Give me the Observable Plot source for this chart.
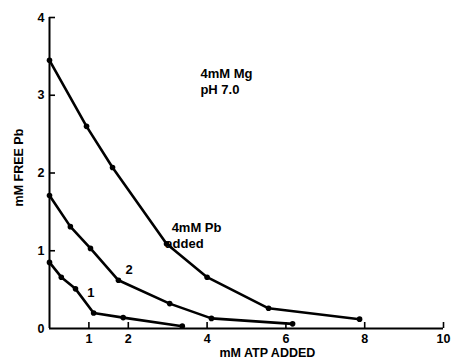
<!DOCTYPE html>
<html><head><meta charset="utf-8">
<script src="https://cdn.jsdelivr.net/npm/d3@7"></script>
<script src="https://cdn.jsdelivr.net/npm/@observablehq/plot@0.6"></script>
<style>
body{margin:0;background:#fff;}
svg{font-family:"Liberation Sans",Arial,sans-serif;}
</style>
</head><body>
<div id="chart"></div>
<script>
const curveNames = ["4mM Pb", "2", "1"];
const atp3 = [0, 0.94, 1.6, 2.97, 4.0, 5.56, 7.87];
const pb3  = [3.45, 2.60, 2.07, 1.09, 0.66, 0.26, 0.12];
const atp2 = [0, 0.53, 1.04, 1.75, 3.05, 4.11, 6.17];
const pb2  = [1.71, 1.31, 1.03, 0.62, 0.32, 0.13, 0.06];
const atp1 = [0, 0.3, 0.66, 1.12, 1.87, 3.37];
const pb1  = [0.85, 0.66, 0.51, 0.20, 0.14, 0.03];
const xTicks = [1, 2, 4, 6, 8, 10];
const yTicks = [0, 1, 2, 3, 4];
const xTitle = "mM ATP ADDED";
const yTitle = "mM FREE Pb";
const notes = [
  {x: 3.83, y: 3.28, t: "4mM Mg"},
  {x: 3.83, y: 3.07, t: "pH 7.0"},
  {x: 3.1, y: 1.30, t: "4mM Pb"},
  {x: 2.94, y: 1.09, t: "added"},
  {x: 1.93, y: 0.76, t: "2"},
  {x: 0.96, y: 0.46, t: "1"}
];

const data = [];
[[atp3, pb3], [atp2, pb2], [atp1, pb1]].forEach(([xs, ys], i) =>
  xs.forEach((x, j) => data.push({curve: curveNames[i], atp: x, pb: ys[j]})));

const W = 451, H = 362, mL = 49, mR = 8, mT = 17, mB = 34, tickLen = 6;

const chart = Plot.plot({
  width: W,
  height: H,
  marginLeft: mL,
  marginRight: mR,
  marginTop: mT,
  marginBottom: mB,
  style: {fontSize: "12.5px", fontWeight: "bold", fontFamily: "'Liberation Sans', Arial, sans-serif"},
  x: {domain: [0, 10]},
  y: {domain: [0, 4]},
  marks: [
    Plot.ruleY([0], {stroke: "#000", strokeWidth: 2}),
    Plot.ruleX([0], {stroke: "#000", strokeWidth: 2}),
    Plot.axisX({ticks: xTicks, tickSize: 0, tickPadding: 6, label: null, tickFormat: "d"}),
    Plot.axisY({ticks: yTicks, tickSize: 0, tickPadding: 5, label: null, tickFormat: "d"}),
    Plot.tickX(xTicks, {x: d => d, insetTop: H - mT - mB - tickLen, stroke: "#000", strokeWidth: 1.6}),
    Plot.tickY(yTicks.filter(d => d > 0), {y: d => d, insetRight: W - mL - mR - tickLen, stroke: "#000", strokeWidth: 1.6}),
    Plot.line(data, {x: "atp", y: "pb", z: "curve", stroke: "#000", strokeWidth: 2.6}),
    Plot.dot(data, {x: "atp", y: "pb", r: 2.8, fill: "#000"}),
    Plot.text(notes, {x: "x", y: "y", text: "t", textAnchor: "start", fontSize: 13, fontWeight: "bold", style: "letter-spacing:1.8px"}),
    Plot.text([xTitle], {x: 5.53, frameAnchor: "bottom", textAnchor: "middle", dy: 28, fontSize: 12.5, fontWeight: "bold", style: "letter-spacing:1px"}),
    Plot.text([yTitle], {y: 2.07, frameAnchor: "left", textAnchor: "middle", dx: -31, rotate: -90, fontSize: 12.5, fontWeight: "bold", style: "letter-spacing:1.5px"})
  ]
});
document.getElementById("chart").appendChild(chart);
</script>
</body></html>
